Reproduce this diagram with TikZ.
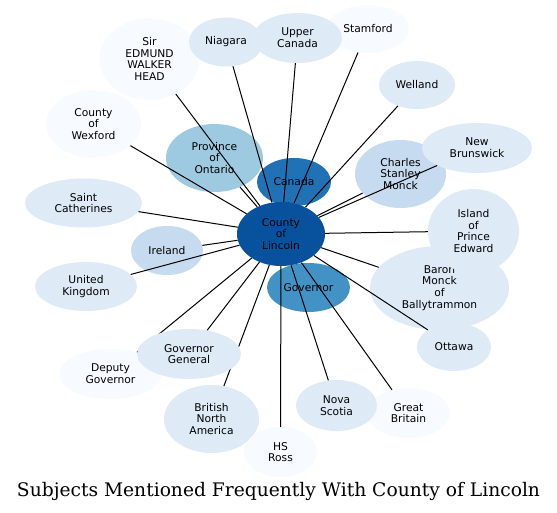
\documentclass[tikz,border=0pt]{standalone}
\usepackage{fontspec}
\setmainfont{DejaVu Sans}
\newfontfamily\titlefont{DejaVu Serif}
\usetikzlibrary{shapes.geometric}
\definecolor{bA}{HTML}{F7FBFF}
\definecolor{bB}{HTML}{DEEBF7}
\definecolor{bC}{HTML}{C6DBEF}
\definecolor{bD}{HTML}{9ECAE1}
\definecolor{bF}{HTML}{4292C6}
\definecolor{bG}{HTML}{2171B5}
\definecolor{bH}{HTML}{08519C}
\pgfdeclarelayer{edgelayer}
\pgfdeclarelayer{frontlayer}
\pgfsetlayers{main,edgelayer,frontlayer}
\begin{document}
\begin{tikzpicture}[x=1pt,y=-1pt,
  bub/.style={ellipse, inner sep=0pt, align=center, draw=none,
    font=\fontsize{10.7}{11.7}\selectfont},
  link/.style={draw=black, line width=1pt}]
\useasboundingbox (0,0) rectangle (557,513);
\fill[white] (0,0) rectangle (557,513);

\node[bub, fill=bA, minimum width=100pt, minimum height=82pt] (head) at (149.5,59) {Sir\\EDMUND\\WALKER\\HEAD};
\node[bub, fill=bA, minimum width=82pt, minimum height=48pt] (stamford) at (368,29) {Stamford};
\node[bub, fill=bB, minimum width=74pt, minimum height=49pt] (niagara) at (226,42) {Niagara};
\node[bub, fill=bB, minimum width=89pt, minimum height=50pt] (upper) at (297.5,38) {Upper\\Canada};
\node[bub, fill=bB, minimum width=76pt, minimum height=48pt] (welland) at (417,85) {Welland};
\node[bub, fill=bA, minimum width=95pt, minimum height=68pt] (wexford) at (93.5,124) {County\\of\\Wexford};
\node[bub, fill=bD, minimum width=97pt, minimum height=68pt] (ontario) at (214.5,158) {Province\\of\\Ontario};
\node[bub, fill=bG, minimum width=74pt, minimum height=48pt] (canada) at (294,182) {Canada};
\node[bub, fill=bB, minimum width=117pt, minimum height=49pt] (saint) at (83.5,203) {Saint\\Catherines};
\node[bub, fill=bC, minimum width=72pt, minimum height=49pt] (ireland) at (167,250.5) {Ireland};
\node[bub, fill=bB, minimum width=102pt, minimum height=49pt] (uk) at (86,286.5) {United\\Kingdom};
\node[bub, fill=bC, minimum width=91pt, minimum height=68pt] (monck) at (400.5,174) {Charles\\Stanley\\Monck};
\node[bub, fill=bB, minimum width=110pt, minimum height=50pt] (newb) at (477,148) {New\\Brunswick};
\node[bub, fill=bB, minimum width=139pt, minimum height=84pt] (baron) at (439.5,288) {Baron\\Monck\\of\\Ballytrammon};
\node[bub, fill=bB, minimum width=91pt, minimum height=84pt] (island) at (473.5,231) {Island\\of\\Prince\\Edward};
\node[bub, fill=bB, minimum width=74pt, minimum height=48pt] (ottawa) at (454,347) {Ottawa};
\node[bub, fill=bF, minimum width=83pt, minimum height=49pt] (governor) at (308.5,287.5) {Governor};
\node[bub, fill=bA, minimum width=103pt, minimum height=50pt] (deputy) at (110.5,374) {Deputy\\Governor};
\node[bub, fill=bB, minimum width=95pt, minimum height=68pt] (bna) at (211.5,419) {British\\North\\America};
\node[bub, fill=bA, minimum width=73pt, minimum height=50pt] (ross) at (280.5,452) {HS\\Ross};
\node[bub, fill=bA, minimum width=83pt, minimum height=50pt] (britain) at (408.5,413) {Great\\Britain};
\node[bub, fill=bB, minimum width=81pt, minimum height=51pt] (nova) at (336.5,405.5) {Nova\\Scotia};

\begin{pgfonlayer}{frontlayer}
\node[bub, fill=bB, minimum width=104pt, minimum height=50pt] (gg) at (189,354) {Governor\\General};
\node[bub, fill=bH, minimum width=88pt, minimum height=64pt] (lincoln) at (281,234) {County\\of\\Lincoln};
\end{pgfonlayer}

\begin{pgfonlayer}{edgelayer}
\foreach \t in {head,stamford,niagara,upper,welland,wexford,ontario,canada,saint,ireland,uk,monck,newb,island,baron,ottawa,governor,deputy,bna,ross,britain,nova,gg}
  \draw[link] (lincoln) -- (\t);
\end{pgfonlayer}

\node[inner sep=0pt] (title) at (278.5,491) {\resizebox{523pt}{!}{\titlefont Subjects Mentioned Frequently With County of Lincoln}};
\end{tikzpicture}
\end{document}
